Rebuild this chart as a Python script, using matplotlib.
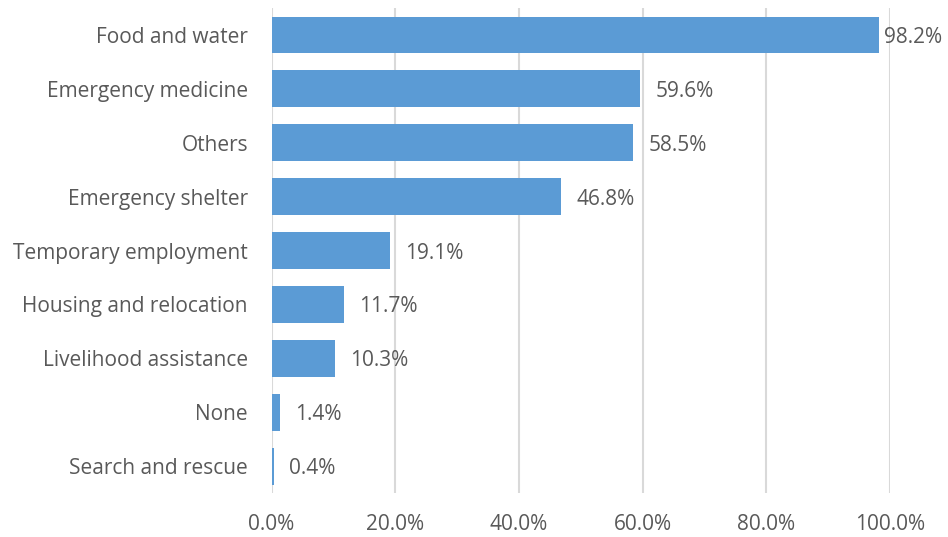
import matplotlib
matplotlib.use("Agg")
import matplotlib.pyplot as plt
from matplotlib.ticker import FuncFormatter

categories = ["Food and water", "Emergency medicine", "Others", "Emergency shelter",
              "Temporary employment", "Housing and relocation", "Livelihood assistance",
              "None", "Search and rescue"]
values = [98.2, 59.6, 58.5, 46.8, 19.1, 11.7, 10.3, 1.4, 0.4]
xticks = [0, 20, 40, 60, 80, 100]

plt.rcParams['font.family'] = ['Open Sans', 'DejaVu Sans']
txt = '#595959'
fs = 15

fig = plt.figure(figsize=(9.48, 5.37), dpi=100)
ax = fig.add_axes([0.2864, 0.0819, 0.6524, 0.9031])

ypos = list(range(len(categories)))
ax.barh(ypos, values, height=0.685, color='#5B9BD5', zorder=3)
for y, v in zip(ypos, values):
    off = 4.0 if v > 90 else 11.0
    ax.annotate(f"{v:.1f}%", (v, y), xytext=(off, 0), textcoords='offset points',
                va='center_baseline', ha='left', fontsize=fs, color=txt, zorder=4)

ax.set_ylim(len(categories) - 0.5, -0.5)
ax.set_xlim(0, 100)
ax.set_xticks(xticks)
ax.xaxis.set_major_formatter(FuncFormatter(lambda x, p: f"{x:.1f}%"))
ax.set_yticks(ypos)
ax.set_yticklabels(categories)
ax.tick_params(axis='both', length=0, labelsize=fs, labelcolor=txt)
ax.tick_params(axis='x', pad=15)
ax.tick_params(axis='y', pad=17)
ax.grid(axis='x', color='#D9D9D9', linewidth=1.5, zorder=0)
for s in ax.spines.values():
    s.set_visible(False)

fig.savefig("out.png", dpi=100)
